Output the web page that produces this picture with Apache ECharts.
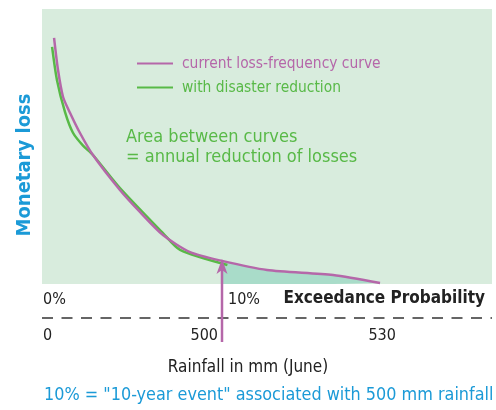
<!DOCTYPE html>
<html><head><meta charset="utf-8">
<script src="https://cdn.jsdelivr.net/npm/echarts@6/dist/echarts.min.js"></script>
<style>html,body{margin:0;padding:0;background:#fff}#c{width:496px;height:410px}</style>
</head><body><div id="c"></div>
<script>
// Exceedance probability (%) and monetary loss (arbitrary units)
const probCurrent = [0.67, 0.89, 1.17, 1.56, 2.11, 2.83, 4.33, 5.44, 6.72, 8.22, 10, 12.5, 16.17, 18.78];
const lossCurrent = [89.5, 77.8, 68.0, 62.2, 54.9, 46.9, 34.2, 26.2, 17.8, 11.6, 8.4, 5.1, 3.3, 0.4];
const probReduced = [0.56, 0.83, 1.28, 1.72, 2.28, 2.83, 4.33, 6.72, 7.67, 10.3];
const lossReduced = [86.2, 74.2, 62.5, 55.0, 50.3, 46.9, 34.9, 18.5, 12.4, 6.9];
const probTicks = [0, 10];
const rainfallTicks = ['0', '500', '530'];
const rainfallAtProb = [0, 10, 18.9];
const eventProb = 10;

const PURPLE = '#b567a9', GREEN = '#58b947', BLUE = '#1b9ad7', DARK = '#222';
const FONT = '"Liberation Sans Narrow","DejaVu Sans Condensed",sans-serif';

const cur = probCurrent.map((p, i) => [p, lossCurrent[i]]);
const red = probReduced.map((p, i) => [p, lossReduced[i]]);
const shade = cur.filter(d => d[0] >= eventProb);

const chart = echarts.init(document.getElementById('c'), null, {renderer: 'canvas'});
chart.setOption({
  animation: false,
  textStyle: {fontFamily: FONT},
  grid: {left: 42, right: 4, top: 9, bottom: 126, show: true, backgroundColor: '#d8ecdd', borderWidth: 0},
  xAxis: {type: 'value', min: 0, max: 25, show: false},
  yAxis: {type: 'value', min: 0, max: 100, show: false},
  legend: {
    orient: 'vertical', left: 137, top: 56, padding: 0, itemWidth: 36, itemHeight: 2, itemGap: 9, icon: 'rect',
    textStyle: {fontSize: 15.4, fontFamily: FONT, padding: [0, 0, 0, 4]},
    data: [
      {name: 'current loss-frequency curve', itemStyle: {color: PURPLE}, textStyle: {color: PURPLE}},
      {name: 'with disaster reduction', itemStyle: {color: GREEN}, textStyle: {color: GREEN}}
    ]
  },
  series: [
    {name: 'shade', type: 'line', data: shade, smooth: 0.25, symbol: 'none',
     lineStyle: {width: 0}, areaStyle: {color: '#a9dcc9', opacity: 1}, z: 1},
    {name: 'with disaster reduction', type: 'line', data: red, smooth: 0.25, symbol: 'none',
     lineStyle: {color: GREEN, width: 2.5}, itemStyle: {color: GREEN}, z: 2},
    {name: 'current loss-frequency curve', type: 'line', data: cur, smooth: 0.25, symbol: 'none',
     lineStyle: {color: PURPLE, width: 2.5}, itemStyle: {color: PURPLE}, z: 3}
  ]
});

const px = v => chart.convertToPixel({xAxisIndex: 0}, v);
const py = v => chart.convertToPixel({yAxisIndex: 0}, v);
const evX = px(eventProb);
const evY = py(lossCurrent[probCurrent.indexOf(eventProb)]);
const g = [];
// arrow
g.push({type: 'line', shape: {x1: evX, y1: 342, x2: evX, y2: evY + 8}, style: {stroke: PURPLE, lineWidth: 2.5}, z: 10});
g.push({type: 'polygon', shape: {points: [[evX, evY - 2], [evX - 5.5, evY + 13], [evX, evY + 9], [evX + 5.5, evY + 13]]}, style: {fill: PURPLE}, z: 10});
// probability labels
probTicks.forEach(p => {
  g.push({type: 'text', x: px(p) + (p === 0 ? 1 : 6), y: 300, style: {text: p + '%', font: '16px ' + FONT, fill: DARK, textVerticalAlign: 'middle'}});
});
g.push({type: 'text', x: 485, y: 299, style: {text: 'Exceedance Probability', font: 'bold 17px ' + FONT, fill: DARK, textAlign: 'right', textVerticalAlign: 'middle'}});
// dashed separator
g.push({type: 'line', shape: {x1: 42, y1: 318, x2: 492, y2: 318}, style: {stroke: '#333', lineWidth: 1.5, lineDash: [11, 8.5]}});
// rainfall labels
rainfallTicks.forEach((t, i) => {
  const x = px(rainfallAtProb[i]);
  const align = i === 0 ? 'left' : (i === 1 ? 'right' : 'center');
  g.push({type: 'text', x: i === 1 ? x - 4 : (i === 0 ? x + 1 : x), y: 336, style: {text: t, font: '16px ' + FONT, fill: DARK, textAlign: align, textVerticalAlign: 'middle'}});
});
g.push({type: 'text', x: 248, y: 368, style: {text: 'Rainfall in mm (June)', font: '17px ' + FONT, fill: DARK, textAlign: 'center', textVerticalAlign: 'middle'}});
g.push({type: 'text', x: 44, y: 395, style: {text: '10% = "10-year event" associated with 500 mm rainfall', font: '17.85px ' + FONT, fill: BLUE, textVerticalAlign: 'middle'}});
// y axis title
g.push({type: 'text', x: 25, y: 165, rotation: Math.PI / 2, style: {text: 'Monetary loss', font: 'bold 20px ' + FONT, fill: BLUE, textAlign: 'center', textVerticalAlign: 'middle'}});
// annotation
g.push({type: 'text', x: 126, y: 137, style: {text: 'Area between curves', font: '18px ' + FONT, fill: GREEN, textVerticalAlign: 'middle'}});
g.push({type: 'text', x: 126, y: 157, style: {text: '= annual reduction of losses', font: '18px ' + FONT, fill: GREEN, textVerticalAlign: 'middle'}});
chart.setOption({graphic: g});
</script></body></html>
